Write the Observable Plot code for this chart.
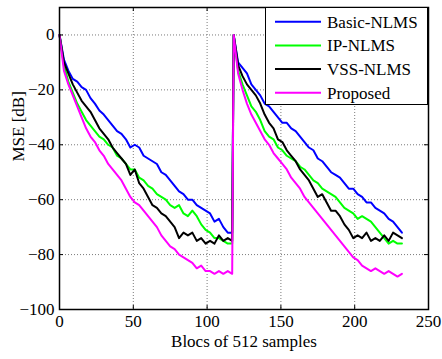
<!DOCTYPE html>
<html>
<head>
<meta charset="utf-8">
<script src="https://cdn.jsdelivr.net/npm/d3@7"></script>
<script src="https://cdn.jsdelivr.net/npm/@observablehq/plot@0.6"></script>
<style>
  html, body { margin: 0; padding: 0; background: #fff; }
  #wrap { position: relative; width: 442px; height: 359px; font-family: "Liberation Serif", "Times New Roman", serif; }
  #legend { position: absolute; left: 265px; top: 7px; }
</style>
</head>
<body>
<div id="wrap"><div id="chart"></div><svg id="legend" width="163" height="98"></svg></div>
<script>
// x: block index (two runs, restart after block 117)
const blocksRun1 = d3.range(0, 118, 3);   // 0..117
const blocksRun2 = d3.range(118, 233, 3); // 118..232
const blocks = [...blocksRun1, ...blocksRun2];

const xTicks = [0, 50, 100, 150, 200, 250];
const yTicks = [-100, -80, -60, -40, -20, 0];

const names = ["Basic-NLMS", "IP-NLMS", "VSS-NLMS", "Proposed"];
const colors = ["#0000ff", "#00ff00", "#000000", "#ff00ff"];

const basicNLMS = [
  0,-9,-13,-16,-17,-19,-20,-23,-25,-27.5,-29,-31,-33,-35,-36,-38,-41,-40,-41,-44,-45,-46,-47,-50,-51,-53,-55,-57,-58,-60,-60,-62,-63,-64,-65,-68,-67,-70,-72,-72,
  0,-10,-12,-14,-18,-20,-22,-25,-26,-28,-30,-32,-32,-34,-35,-37,-39,-41,-42,-45,-46,-48,-50,-51,-52,-54,-56,-56,-58,-59,-61,-61,-63,-64,-65,-67,-68,-70,-72
];
const ipNLMS = [
  0,-11,-17,-21,-25,-28,-31,-33,-35,-37,-38,-40,-41,-44,-45,-47,-49,-49,-52,-53,-55,-56,-58,-59,-60,-62,-63,-62,-65,-66,-64,-66,-69,-71,-72,-74,-74,-75,-76,-76,
  0,-13,-18,-22,-26,-28,-31,-35,-37,-38,-41,-42,-44,-45,-46,-48,-49,-51,-53,-54,-56,-57,-58,-59,-61,-63,-64,-65,-67,-66,-67,-68,-70,-72,-74,-76,-75,-76,-76
];
const vssNLMS = [
  0,-10,-14,-18,-21,-24,-26,-28,-31,-34,-36,-38,-41,-43,-45,-47,-51,-49,-54,-56,-59,-62,-63,-65,-66,-68,-70,-74,-72,-73,-72,-75,-74,-76,-75,-76,-73,-75,-74,-75,
  0,-11,-15,-18,-20,-22,-25,-29,-32,-34,-38,-39,-42,-44,-46,-49,-51,-53,-56,-59,-58,-61,-64,-64,-66,-69,-71,-74,-73,-74,-72,-75,-74,-75,-73,-75,-72,-73,-74
];
const proposed = [
  0,-13,-18,-22,-26,-30,-34,-37,-39,-42,-44,-47,-49,-51,-53,-56,-59,-61,-62,-64,-66,-68,-70,-73,-75,-77,-78,-80,-81,-82,-83,-85,-84,-86,-86,-87,-86,-87,-86,-87,
  0,-14,-20,-25,-29,-32,-35,-38,-40,-43,-45,-47,-49,-52,-54,-56,-59,-61,-63,-65,-67,-69,-71,-73,-75,-77,-79,-81,-82,-84,-85,-86,-85,-86,-87,-86,-87,-88,-87
];

const seriesValues = [basicNLMS, ipNLMS, vssNLMS, proposed];

const W = 442, H = 359, mL = 59, mR = 14, mT = 7, mB = 50;
const innerW = W - mL - mR, innerH = H - mT - mB;
const font = '"Liberation Serif", "Times New Roman", serif';

const lineMarks = seriesValues.map((vals, k) =>
  Plot.line(blocks.map((b, i) => ({block: b, mse: vals[i]})), {
    x: "block", y: "mse", stroke: colors[k], strokeWidth: 2, strokeLinejoin: "round"
  })
);

const chart = Plot.plot({
  width: W, height: H,
  marginLeft: mL, marginRight: mR, marginTop: mT, marginBottom: mB,
  style: {fontFamily: font, fontSize: "17px", background: "#fff", color: "#000", overflow: "visible"},
  x: {domain: [0, 250]},
  y: {domain: [-100, 10]},
  marks: [
    Plot.gridX(xTicks, {stroke: "#7a7a7a", strokeOpacity: 1, strokeDasharray: "1,2"}),
    Plot.gridY(yTicks, {stroke: "#7a7a7a", strokeOpacity: 1, strokeDasharray: "1,2"}),
    ...lineMarks,
    Plot.tickX(xTicks, {x: d => d, insetTop: innerH - 4, stroke: "#000"}),
    Plot.tickX(xTicks, {x: d => d, insetBottom: innerH - 4, stroke: "#000"}),
    Plot.tickY(yTicks, {y: d => d, insetRight: innerW - 4, stroke: "#000"}),
    Plot.tickY(yTicks, {y: d => d, insetLeft: innerW - 4, stroke: "#000"}),
    Plot.frame({stroke: "#000", strokeWidth: 1.5}),
    Plot.axisX(xTicks, {tickSize: 0, tickPadding: 5, fontSize: 17, label: null}),
    Plot.axisY(yTicks, {tickSize: 0, tickPadding: 5, fontSize: 17, label: null}),
    Plot.text(["Blocs of 512 samples"], {text: d => d, frameAnchor: "bottom", dy: 37, fontSize: 17}),
    Plot.text(["MSE [dB]"], {text: d => d, frameAnchor: "left", dx: -41, dy: 3, rotate: -90, fontSize: 17})
  ]
});
document.getElementById("chart").appendChild(chart);

// legend
const lg = d3.select("#legend");
lg.append("rect").attr("x", 0.5).attr("y", 0.5).attr("width", 162).attr("height", 97)
  .attr("fill", "#fff").attr("stroke", "#000").attr("stroke-width", 1);
names.forEach((n, i) => {
  const yy = 14.7 + i * 23.7;
  lg.append("line").attr("x1", 10).attr("x2", 56).attr("y1", yy).attr("y2", yy)
    .attr("stroke", colors[i]).attr("stroke-width", 2);
  lg.append("text").attr("x", 62).attr("y", yy).attr("dy", "0.35em")
    .attr("font-family", font).attr("font-size", 17).attr("fill", "#000").text(n);
});
</script>
</body>
</html>
